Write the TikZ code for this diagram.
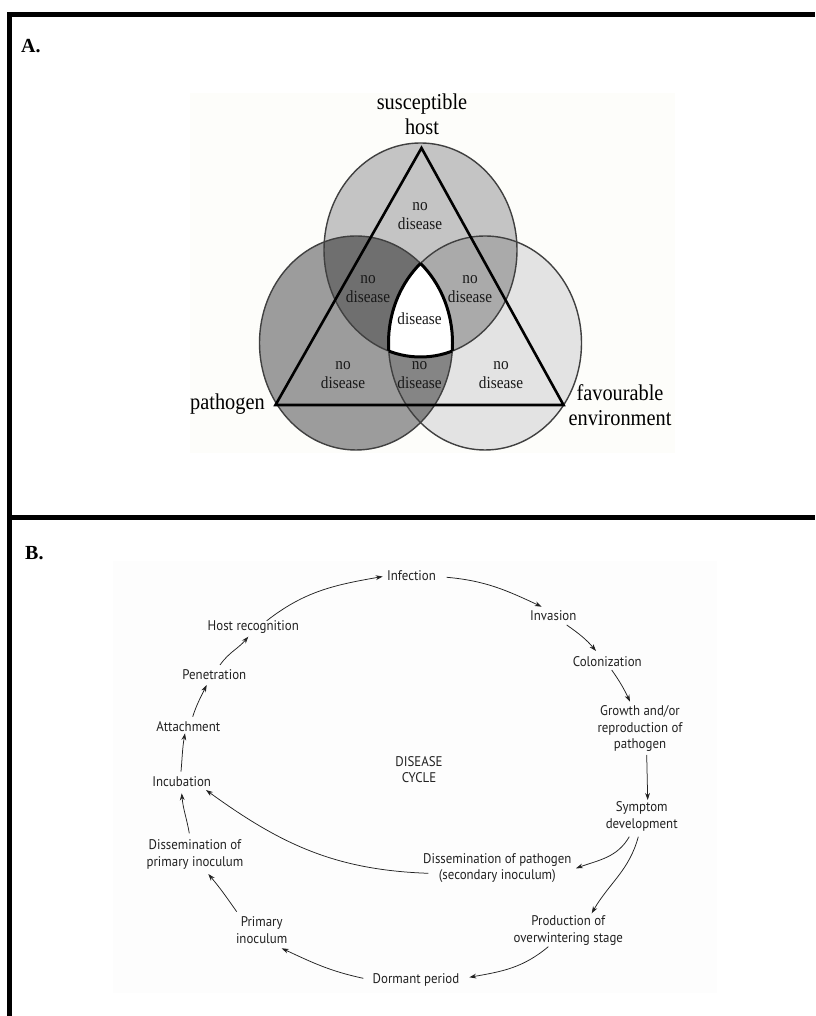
\documentclass[tikz,border=0pt]{standalone}
\usepackage{fontspec}
\setmainfont{Liberation Serif}
\newfontfamily\venfont[FakeStretch=0.9]{Liberation Serif}
\newfontfamily\cycfont[FakeStretch=0.92]{PT Sans}
\usetikzlibrary{arrows.meta,calc}
\definecolor{cL}{HTML}{9C9C9C}
\definecolor{cT}{HTML}{C4C4C4}
\definecolor{cR}{HTML}{E3E3E3}
\definecolor{cLT}{HTML}{6F6F6F}
\definecolor{cTR}{HTML}{AAAAAA}
\definecolor{cLR}{HTML}{858585}
\definecolor{vbg}{RGB}{253,253,250}
\definecolor{cbg}{RGB}{253,253,253}
\definecolor{ink}{HTML}{222222}
\begin{document}
\begin{tikzpicture}[x=1pt,y=1pt,
  frameline/.style={line width=5pt,black},
  vline/.style={draw=black!75,line width=1.4pt},
  tline/.style={draw=black,line width=3pt},
  tri/.style={draw=black,line width=2.6pt,line join=miter},
  nd/.style={font=\venfont\fontsize{17}{19}\selectfont,text=black!90,align=center,inner sep=0pt},
  outer/.style={font=\venfont\fontsize{22.6}{25}\selectfont,align=center,inner sep=0pt},
  panel/.style={font=\bfseries\fontsize{20}{24}\selectfont,inner sep=0pt,anchor=base west},
  cyc/.style={font=\cycfont\fontsize{14}{16.5}\selectfont,text=ink,align=center,inner sep=0pt},
  arr/.style={draw=ink,line width=0.75pt,-{Stealth[length=7pt,width=4.8pt]}}]
\useasboundingbox (0,0) rectangle (815,1016);
\fill[white] (0,0) rectangle (815,1016);

% frame
\draw[frameline] (7,1001) -- (815,1001);
\draw[line width=4.5pt] (9.5,0) -- (9.5,1003.5);
\draw[line width=5.5pt] (9.5,498.5) -- (815,498.5);
\node[panel] (labA) at (21,963) {A.};
\node[panel] (labB) at (25,456) {B.};

% backgrounds
\fill[vbg] (190,563) rectangle (675,923);
\fill[cbg] (113,23) rectangle (717,455);

% Venn
\def\topE{(420.5,766) ellipse [x radius=96.5pt, y radius=107pt]}
\def\leftE{(356,673) ellipse [x radius=96.5pt, y radius=107pt]}
\def\rightE{(485,673) ellipse [x radius=96.5pt, y radius=107pt]}
\fill[cL] \leftE;
\fill[cT] \topE;
\fill[cR] \rightE;
\begin{scope}\clip \leftE; \fill[cLT] \topE; \end{scope}
\begin{scope}\clip \topE; \fill[cTR] \rightE; \end{scope}
\begin{scope}\clip \leftE; \fill[cLR] \rightE; \end{scope}
\begin{scope}\clip \leftE; \clip \topE; \fill[white] \rightE; \end{scope}
\draw[vline] \leftE;
\draw[vline] \topE;
\draw[vline] \rightE;
\begin{scope}\clip \leftE; \clip \topE; \draw[tline] \rightE; \end{scope}
\begin{scope}\clip \leftE; \clip \rightE; \draw[tline] \topE; \end{scope}
\begin{scope}\clip \topE; \clip \rightE; \draw[tline] \leftE; \end{scope}
\draw[tri] (421.5,868) -- (275.5,611) -- (563.5,611) -- cycle;

\node[nd] (n1) at (420,800) {no\\disease};
\node[nd] (n2) at (368,727) {no\\disease};
\node[nd] (n3) at (470,727) {no\\disease};
\node[nd] (n4) at (419.5,697) {disease};
\node[nd] (n5) at (343,640.5) {no\\disease};
\node[nd] (n6) at (419.5,640.5) {no\\disease};
\node[nd] (n7) at (501,640.5) {no\\disease};

\node[outer] (host) at (422,902) {susceptible\\host};
\node[outer] (path) at (227.5,612) {pathogen};
\node[outer] (env) at (620,610.5) {favourable\\environment};

% Disease cycle
\node[cyc] (inf) at (411.5,440) {Infection};
\node[cyc] (inv) at (553.3,400) {Invasion};
\node[cyc] (col) at (607.3,354.3) {Colonization};
\node[cyc] (gr)  at (640,287.3) {Growth and/or\\reproduction of\\pathogen};
\node[cyc] (sy)  at (641.7,199.7) {Symptom\\development};
\node[cyc] (dp)  at (497.3,147.7) {Dissemination of pathogen\\(secondary inoculum)};
\node[cyc] (pr)  at (568.3,85.3) {Production of\\overwintering stage};
\node[cyc] (dor) at (416,36) {Dormant period};
\node[cyc] (pi)  at (261.7,86) {Primary\\inoculum};
\node[cyc] (dpi) at (195,161.7) {Dissemination of\\primary inoculum};
\node[cyc] (inc) at (181.7,234.3) {Incubation};
\node[cyc] (att) at (188.3,289.3) {Attachment};
\node[cyc] (pen) at (214.3,341.7) {Penetration};
\node[cyc] (hr)  at (253.3,388.7) {Host recognition};
\node[cyc] (dc)  at (419,246.5) {DISEASE\\CYCLE};

\draw[arr] ($(hr)+(13.4,6.5)$) to[out=38,in=190] ($(inf)+(-28.8,-0.5)$);
\draw[arr] ($(inf)+(35.2,-1.3)$) to[out=-5,in=155] ($(inv)+(-11.6,9.3)$);
\draw[arr] ($(inv)+(13.4,-9)$) to[out=-35,in=130] ($(col)+(-11.3,10.7)$);
\draw[arr] ($(col)+(4.4,-8.3)$) to[out=-55,in=115] ($(gr)+(-10,27)$);
\draw[arr] ($(gr)+(6.7,-26.3)$) -- ($(sy)+(6,16.3)$);
\draw[arr] ($(sy)+(-12.4,-20.4)$) to[out=-120,in=20] ($(dp)+(78.7,0)$);
\draw[arr] ($(sy)+(-3.4,-20.4)$) to[out=-105,in=60] ($(pr)+(23.4,17.4)$);
\draw[arr] ($(pr)+(-20,-16)$) to[out=-140,in=10] ($(dor)+(53.3,2.7)$);
\draw[arr] ($(dor)+(-52.7,1.7)$) to[out=168,in=-25] ($(pi)+(20,-18.3)$);
\draw[arr] ($(pi)+(-25,18.3)$) to[out=125,in=-50] ($(dpi)+(13.3,-19.7)$);
\draw[arr] ($(dpi)+(-5.7,21)$) to[out=100,in=-85] ($(inc)+(0,-11.6)$);
\draw[arr] ($(dp)+(-69,-5)$) to[out=178,in=-36] ($(inc)+(24.3,-8.3)$);
\draw[arr] ($(inc)+(-0.7,10)$) to[out=85,in=-100] ($(att)+(-3.3,-6.6)$);
\draw[arr] ($(att)+(4.4,10)$) to[out=72,in=-116] ($(pen)+(-7.6,-10.7)$);
\draw[arr] ($(pen)+(5.7,9.3)$) to[out=55,in=-130] ($(hr)+(-5,-9.4)$);
\end{tikzpicture}
\end{document}
